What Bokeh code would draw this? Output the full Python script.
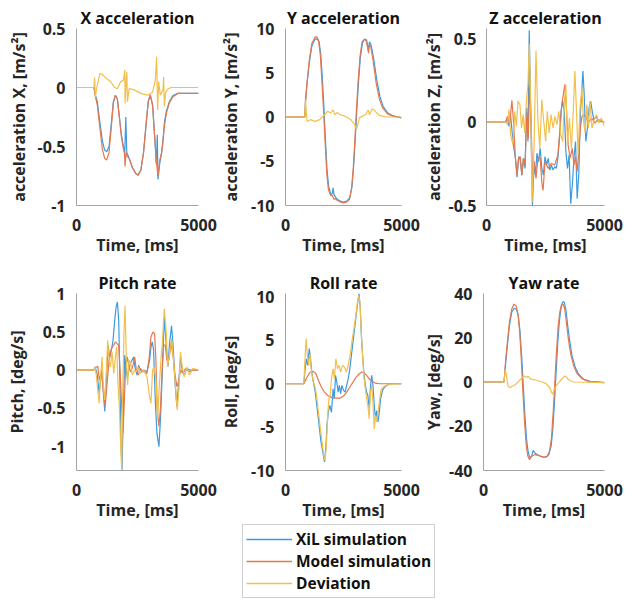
from bokeh.plotting import figure
from bokeh.layouts import row, column
from bokeh.models import Range1d, FixedTicker, Legend, LegendItem
from bokeh.embed import file_html
from bokeh.resources import INLINE

# ---------------- data (time in ms) ----------------
xacc_xil_t = [0, 714, 770, 852, 962, 1058, 1154, 1237, 1333, 1429, 1511, 1594, 1676, 1759, 1841, 1924, 1979, 2020, 2061, 2157, 2295, 2432, 2528, 2638, 2748, 2858, 2940, 3023, 3119, 3215, 3270, 3311, 3339, 3408, 3490, 3545, 3600, 3682, 3806, 3943, 4149, 5000]
xacc_xil_v = [0, 0, -0.06, -0.12, -0.30, -0.45, -0.53, -0.545, -0.50, -0.30, -0.12, -0.065, -0.10, -0.25, -0.40, -0.50, -0.55, -0.25, -0.55, -0.60, -0.68, -0.73, -0.74, -0.70, -0.55, -0.30, -0.12, -0.065, -0.15, -0.45, -0.65, -0.40, -0.78, -0.65, -0.55, -0.45, -0.30, -0.20, -0.12, -0.07, -0.05, -0.05]
xacc_mod_t = [0, 714, 770, 852, 962, 1058, 1154, 1237, 1333, 1429, 1511, 1594, 1676, 1759, 1841, 1924, 1965, 1990, 2030, 2061, 2157, 2295, 2432, 2528, 2638, 2748, 2858, 2940, 3023, 3119, 3215, 3270, 3311, 3339, 3408, 3490, 3545, 3600, 3682, 3806, 3943, 4149, 5000]
xacc_mod_v = [0, 0, -0.07, -0.15, -0.35, -0.52, -0.60, -0.615, -0.55, -0.33, -0.13, -0.065, -0.10, -0.26, -0.42, -0.52, -0.56, -0.67, -0.55, -0.58, -0.60, -0.68, -0.73, -0.745, -0.70, -0.55, -0.30, -0.12, -0.06, -0.15, -0.45, -0.62, -0.70, -0.75, -0.62, -0.55, -0.45, -0.33, -0.22, -0.13, -0.08, -0.05, -0.05]
xacc_dev_t = [0, 714, 742, 770, 852, 962, 1058, 1237, 1401, 1539, 1676, 1814, 1924, 1979, 1992, 2034, 2061, 2088, 2157, 2363, 2638, 2913, 3119, 3229, 3284, 3325, 3366, 3435, 3545, 3572, 3600, 3655, 3765, 3875, 4149, 5000]
xacc_dev_v = [0, 0, 0.085, -0.08, 0.02, 0.12, 0.11, 0.075, 0.05, 0.005, -0.01, 0.05, 0.06, 0.15, -0.135, 0.06, 0.13, -0.12, -0.01, -0.02, -0.05, -0.065, -0.04, 0.06, 0.26, -0.19, 0.05, -0.065, -0.02, 0.09, -0.16, -0.04, -0.01, 0.0, 0, 0]

yacc_xil_t = [0, 833, 861, 929, 1025, 1134, 1270, 1366, 1448, 1516, 1585, 1653, 1721, 1789, 1858, 1953, 2022, 2049, 2090, 2131, 2227, 2363, 2500, 2636, 2773, 2869, 2937, 3005, 3074, 3142, 3224, 3319, 3415, 3497, 3565, 3620, 3688, 3797, 3934, 4071, 4207, 4412, 4617, 5000]
yacc_xil_v = [0, 0, 1.95, 3.8, 6.1, 8.0, 8.8, 8.83, 8.5, 7.2, 4.6, 1.2, -2.55, -5.9, -7.8, -8.75, -8.6, -8.0, -8.8, -8.95, -9.3, -9.5, -9.6, -9.5, -9.1, -7.8, -5.6, -2.55, 0.8, 3.8, 6.65, 8.4, 8.8, 8.7, 7.6, 8.5, 8.15, 6.65, 4.2, 2.3, 1.2, 0.45, 0.15, -0.1]
yacc_mod_t = [0, 833, 861, 929, 1025, 1134, 1270, 1340, 1420, 1500, 1570, 1640, 1710, 1780, 1850, 1950, 2010, 2040, 2080, 2131, 2227, 2363, 2500, 2636, 2760, 2850, 2920, 2990, 3060, 3130, 3210, 3300, 3400, 3480, 3540, 3580, 3620, 3680, 3780, 3910, 4050, 4190, 4400, 4617, 5000]
yacc_mod_v = [0, 0, 1.5, 3.9, 6.4, 8.3, 9.0, 9.1, 8.7, 7.0, 4.0, 0.8, -3.0, -6.4, -8.2, -8.9, -8.8, -9.0, -9.3, -9.2, -9.4, -9.6, -9.7, -9.6, -9.3, -8.0, -5.8, -2.6, 0.9, 4.0, 6.8, 8.5, 8.8, 8.6, 7.8, 7.2, 8.2, 7.9, 6.3, 3.8, 2.0, 1.0, 0.35, 0.1, -0.1]
yacc_dev_t = [0, 833, 861, 929, 1065, 1270, 1475, 1680, 1817, 1953, 2049, 2131, 2227, 2363, 2500, 2636, 2814, 2978, 3060, 3115, 3183, 3319, 3456, 3565, 3620, 3729, 3825, 3934, 4071, 4344, 5000]
yacc_dev_v = [0, 0, 1.95, -0.5, -0.3, -0.5, -0.3, 0.25, 0.65, 0.45, 0.8, 0.25, 0.5, 0.25, 0.15, 0, -0.3, -0.85, -1.45, -0.85, -0.1, 0.1, 0.25, 0.8, 0.25, 0.9, 0.8, 0.45, 0.15, 0, 0]

zacc_xil_t = [0, 817, 872, 953, 1022, 1090, 1158, 1226, 1294, 1362, 1430, 1498, 1566, 1634, 1702, 1757, 1811, 1880, 1948, 2016, 2070, 2138, 2206, 2275, 2343, 2411, 2479, 2547, 2615, 2683, 2751, 2819, 2888, 2956, 3024, 3092, 3160, 3228, 3296, 3364, 3432, 3500, 3568, 3637, 3705, 3773, 3841, 3909, 3977, 4045, 4086, 4140, 4209, 4277, 4345, 4413, 4481, 4549, 4658, 4726, 5000]
zacc_xil_v = [0, 0, 0.025, -0.026, 0.035, -0.066, -0.157, -0.217, -0.33, -0.207, -0.227, -0.318, -0.217, -0.278, 0.085, -0.117, 0.55, 0.0, -0.5, -0.237, -0.318, -0.187, -0.237, -0.157, -0.278, -0.318, -0.207, -0.258, -0.217, -0.288, -0.258, -0.288, -0.268, -0.278, -0.217, -0.097, 0.064, 0.125, 0.064, -0.177, -0.278, -0.197, -0.49, -0.378, -0.217, -0.117, -0.46, -0.318, 0.044, 0.205, 0.305, 0.165, -0.117, -0.036, 0.085, 0.125, 0.064, 0.014, 0.034, 0.004, 0]
zacc_mod_t = [0, 817, 885, 981, 1076, 1144, 1226, 1294, 1362, 1430, 1498, 1566, 1634, 1702, 1771, 1825, 1880, 1948, 2016, 2097, 2179, 2275, 2343, 2397, 2479, 2615, 2751, 2888, 3024, 3119, 3187, 3255, 3323, 3391, 3460, 3541, 3637, 3705, 3773, 3841, 3909, 3977, 4045, 4113, 4209, 4318, 4454, 4590, 4726, 5000]
zacc_mod_v = [0, 0, 0.034, -0.016, 0.13, 0.004, -0.217, -0.318, -0.217, -0.207, -0.318, -0.217, -0.258, 0.044, -0.097, 0.22, 0.05, -0.318, -0.237, -0.338, -0.217, -0.217, -0.36, -0.41, -0.237, -0.278, -0.248, -0.258, -0.197, -0.036, 0.105, 0.165, 0.225, 0.064, -0.137, -0.217, -0.157, -0.258, -0.207, -0.298, -0.177, -0.036, 0.034, 0.044, 0.034, -0.006, 0.024, -0.006, 0.014, 0]
zacc_dev_t = [0, 817, 885, 953, 1022, 1117, 1199, 1267, 1335, 1416, 1485, 1553, 1621, 1689, 1757, 1811, 1866, 1934, 2016, 2097, 2179, 2261, 2343, 2425, 2506, 2574, 2656, 2738, 2819, 2901, 2983, 3064, 3146, 3228, 3296, 3364, 3432, 3514, 3596, 3677, 3745, 3814, 3882, 3963, 4045, 4113, 4181, 4250, 4318, 4386, 4468, 4549, 4658, 4767, 4862, 5000]
zacc_dev_v = [0, 0, -0.016, 0.075, -0.076, -0.137, 0.064, -0.026, 0.125, 0.105, -0.036, 0.044, -0.066, 0.125, 0.225, 0.467, 0.165, -0.48, -0.137, 0.427, 0.004, -0.157, 0.135, 0.004, -0.117, 0.064, -0.066, 0.044, -0.036, 0.034, -0.016, 0.064, -0.076, -0.117, 0.115, 0.225, -0.137, 0.024, -0.157, 0.064, 0.305, 0.064, -0.197, 0.085, 0.205, 0.004, -0.066, 0.105, -0.036, 0.125, -0.036, 0.004, 0.044, -0.006, 0.024, -0.026]

pitch_xil_t = [0, 708, 763, 844, 926, 981, 1035, 1103, 1158, 1226, 1294, 1362, 1430, 1498, 1566, 1621, 1675, 1730, 1784, 1825, 1866, 1920, 1975, 2029, 2084, 2138, 2206, 2275, 2343, 2397, 2479, 2547, 2615, 2683, 2751, 2887, 2996, 3051, 3105, 3160, 3228, 3296, 3378, 3446, 3514, 3596, 3664, 3746, 3814, 3895, 3963, 4031, 4113, 4195, 4263, 4331, 4413, 4522, 4658, 5000]
pitch_xil_v = [0, 0, 0.043, -0.043, -0.30, -0.13, 0, -0.30, -0.54, -0.13, 0.325, 0.173, 0.26, 0.39, 0.65, 0.82, 0.89, 0.65, -0.22, -0.99, -1.3, -0.52, 0.195, 0.043, -0.11, 0, 0.087, 0.13, 0.17, 0.043, -0.065, 0.065, 0, -0.022, 0, -0.022, 0.13, 0.30, 0.37, 0.26, -0.39, -0.82, -1.0, -0.61, -0.043, 0.69, 0.39, 0.043, 0.346, 0.58, 0.30, -0.13, -0.476, -0.13, 0.173, 0, -0.065, 0.022, 0, 0]
pitch_mod_t = [0, 708, 790, 872, 940, 1022, 1103, 1171, 1253, 1335, 1430, 1525, 1593, 1661, 1730, 1798, 1852, 1907, 1961, 2016, 2084, 2152, 2220, 2302, 2384, 2452, 2534, 2615, 2751, 2887, 2983, 3051, 3133, 3201, 3255, 3310, 3378, 3446, 3514, 3569, 3637, 3705, 3787, 3868, 3950, 4031, 4113, 4195, 4263, 4358, 4467, 4604, 4794, 5000]
pitch_mod_v = [0, 0, 0.035, 0.052, -0.13, -0.022, -0.28, -0.476, -0.173, 0.13, 0.28, 0.325, 0.368, 0.346, 0.325, -0.087, -0.476, -0.823, -0.39, 0.043, 0.173, 0.043, -0.022, 0.043, 0.173, 0, -0.065, 0.022, -0.022, -0.043, 0.173, 0.433, 0.498, 0.476, 0.13, -0.52, -0.736, -0.476, 0.043, 0.325, 0.325, 0.13, 0.13, 0.346, 0.216, -0.043, -0.216, -0.13, 0, -0.043, 0.022, -0.022, 0, 0]
pitch_dev_t = [0, 708, 763, 817, 872, 926, 981, 1049, 1103, 1158, 1226, 1280, 1335, 1389, 1457, 1525, 1593, 1648, 1702, 1757, 1811, 1852, 1893, 1948, 1989, 2043, 2097, 2152, 2220, 2288, 2370, 2452, 2534, 2615, 2751, 2887, 2996, 3051, 3119, 3187, 3255, 3323, 3391, 3460, 3528, 3596, 3664, 3732, 3814, 3895, 3977, 4058, 4126, 4195, 4263, 4331, 4413, 4522, 4631, 4767, 5000]
pitch_dev_v = [0, 0, 0.043, -0.087, -0.26, -0.433, -0.13, 0.173, -0.216, -0.39, 0, 0.39, 0.13, 0.043, 0.238, -0.043, 0.173, 0.303, -0.173, -0.476, -1.0, -1.3, -0.3, 0.5, 0.84, 0.13, -0.195, 0.13, 0.087, -0.065, 0, -0.022, 0.043, -0.043, 0, -0.087, -0.346, -0.433, 0, 0.043, -0.13, -0.649, -0.216, 0.13, 0.39, 0.80, 0.563, 0.043, 0.216, 0.411, 0.13, -0.216, -0.52, -0.26, 0.238, 0.043, -0.087, 0.043, -0.065, 0.022, 0]

roll_xil_t = [0, 792, 847, 902, 956, 1025, 1079, 1134, 1202, 1284, 1366, 1448, 1530, 1612, 1680, 1735, 1789, 1844, 1912, 1981, 2049, 2104, 2158, 2213, 2268, 2322, 2377, 2431, 2500, 2568, 2636, 2705, 2773, 2841, 2910, 2978, 3046, 3115, 3169, 3224, 3278, 3333, 3388, 3442, 3497, 3551, 3606, 3661, 3715, 3770, 3825, 3879, 3934, 3989, 4043, 4098, 4180, 4276, 4412, 4617, 5000]
roll_xil_v = [0, 0, 1.73, 2.88, 2.12, 4.04, 2.88, 1.35, 0.19, -0.96, -2.88, -4.8, -6.7, -7.9, -9.0, -7.5, -4.8, -3.3, -2.5, -3.3, -0.58, -1.73, 0.96, 0.19, -0.96, -0.19, -1.15, -0.19, -0.77, -0.96, -0.19, 0.58, 1.73, 3.27, 4.8, 6.35, 7.9, 9.4, 10.4, 8.65, 5.2, 2.88, 0.96, -0.19, -0.96, -1.35, -2.88, -0.38, 0.96, -0.19, -2.5, -4.04, -3.1, -4.4, -3.27, -1.73, -0.77, -0.38, -0.12, 0, 0]
roll_mod_t = [0, 792, 929, 1065, 1202, 1311, 1420, 1544, 1680, 1817, 1953, 2158, 2363, 2500, 2636, 2773, 2910, 3046, 3183, 3292, 3388, 3497, 3606, 3729, 3866, 4071, 5000]
roll_mod_v = [0, 0, 0.77, 1.35, 1.42, 1.15, 0.38, -0.38, -0.96, -1.35, -1.54, -1.65, -1.65, -1.42, -0.96, -0.38, 0.19, 0.77, 1.15, 1.35, 1.27, 0.96, 0.58, 0.27, 0.08, 0, 0]
roll_dev_t = [0, 792, 833, 888, 943, 997, 1052, 1107, 1175, 1257, 1339, 1420, 1503, 1585, 1653, 1708, 1762, 1817, 1871, 1926, 1981, 2049, 2104, 2172, 2240, 2309, 2377, 2459, 2541, 2623, 2705, 2787, 2869, 2951, 3033, 3101, 3156, 3210, 3265, 3320, 3388, 3442, 3497, 3551, 3606, 3661, 3715, 3770, 3825, 3879, 3934, 3989, 4043, 4112, 4207, 4344, 4549, 5000]
roll_dev_v = [0, 0, 2.5, 5.2, 3.27, 2.12, 3.46, 1.73, 0.38, -0.19, -1.35, -3.27, -5.2, -6.9, -8.3, -8.85, -7.1, -3.65, -1.73, -1.35, 0.58, 1.73, 0.58, 2.88, 1.73, 2.12, 1.35, 2.12, 1.92, 1.35, 2.12, 3.27, 5.0, 6.35, 7.9, 9.4, 10.2, 9.4, 5.96, 3.27, 0.58, -0.58, -1.73, -2.5, -4.04, -0.96, -0.19, -2.12, -5.2, -3.65, -4.4, -3.27, -2.12, -0.77, -0.38, -0.19, -0.04, 0]

yaw_xil_t = [0, 849, 918, 986, 1069, 1165, 1260, 1356, 1439, 1507, 1576, 1644, 1713, 1781, 1850, 1918, 1987, 2055, 2124, 2219, 2356, 2493, 2603, 2699, 2795, 2863, 2932, 3000, 3069, 3137, 3206, 3274, 3343, 3411, 3480, 3562, 3658, 3795, 3932, 4137, 4411, 5000]
yaw_xil_v = [0, 0, 8.8, 16.3, 25.4, 31.5, 33.3, 33.0, 30.0, 23.0, 11.8, -1.8, -15.4, -26.0, -32.0, -34.3, -33.6, -30.9, -32.1, -32.8, -33.6, -34.0, -33.9, -32.8, -29.0, -21.5, -9.4, 4.2, 17.9, 27.7, 33.7, 36.3, 36.0, 32.2, 25.4, 18.6, 11.8, 6.5, 3.5, 1.2, 0.3, -0.3]
yaw_mod_t = [0, 849, 918, 986, 1069, 1165, 1260, 1343, 1425, 1493, 1562, 1630, 1699, 1767, 1836, 1904, 1959, 2028, 2124, 2288, 2493, 2630, 2726, 2808, 2877, 2946, 3014, 3083, 3151, 3220, 3288, 3357, 3425, 3507, 3603, 3726, 3863, 4069, 4343, 5000]
yaw_mod_v = [0, 0, 10.3, 17.8, 26.9, 33.0, 35.2, 34.5, 30.7, 23.0, 10.3, -4.8, -18.5, -29.0, -33.6, -35.1, -33.9, -33.3, -32.8, -33.3, -33.9, -33.6, -31.3, -25.3, -14.0, -0.3, 13.3, 24.7, 31.5, 34.8, 35.2, 33.0, 26.9, 19.4, 12.7, 7.3, 3.8, 1.5, 0.3, -0.3]
yaw_dev_t = [0, 849, 904, 959, 1014, 1096, 1192, 1329, 1466, 1603, 1699, 1781, 1836, 1918, 2014, 2151, 2288, 2425, 2562, 2658, 2740, 2808, 2863, 2932, 3014, 3110, 3206, 3288, 3343, 3411, 3480, 3589, 3726, 5000]
yaw_dev_v = [0, 0, 5.7, 2.0, -1.8, -2.6, -1.8, -1.1, 0.45, 2.0, 2.7, 2.0, 2.7, 1.5, 1.2, 0.9, 0.45, 0, -0.6, -1.5, -2.6, -4.5, -5.6, -3.3, -1.5, -0.3, 0.9, 2.0, 2.7, 2.4, 1.5, 0.45, 0, -0.3]

x_ticks = [0, 5000]
x_tick_labels = ["0", "5000"]
series_names = ["XiL simulation", "Model simulation", "Deviation"]

FONT = "Open Sans"
C_XIL = "#3d9ae0"
C_MOD = "#e5784f"
C_DEV = "#f2c04c"
AX_COL = "#a3a3a3"
TXT = "#262626"
LW = 1.2


def panel(title, ylabel, yr, yticks, ylabels, series, left, right, top, bottom, width, height,
          lab_standoff, tick_standoff=5):
    p = figure(width=width, height=height, x_range=Range1d(0, 5000), y_range=Range1d(*yr),
               output_backend="svg", toolbar_location=None, title=title,
               min_border_left=left, min_border_right=right,
               min_border_top=top, min_border_bottom=bottom)
    p.title.align = "center"
    p.title.text_font = FONT
    p.title.text_font_size = "16px"
    p.title.text_font_style = "bold"
    p.title.text_color = "#111111"
    p.title.standoff = 0
    p.grid.visible = False
    p.outline_line_color = None
    for ax in (p.xaxis[0], p.yaxis[0]):
        ax.axis_line_color = AX_COL
        ax.major_tick_line_color = None
        ax.minor_tick_line_color = None
        ax.major_label_text_font = FONT
        ax.major_label_text_font_size = "16px"
        ax.major_label_text_font_style = "bold"
        ax.major_label_text_color = TXT
        ax.axis_label_text_font = FONT
        ax.axis_label_text_font_size = "16px"
        ax.axis_label_text_font_style = "bold"
        ax.axis_label_text_color = TXT
    p.xaxis.ticker = FixedTicker(ticks=x_ticks)
    p.xaxis.major_label_overrides = dict(zip(x_ticks, x_tick_labels))
    p.xaxis.axis_label = "Time, [ms]"
    p.xaxis.major_label_standoff = 7
    p.xaxis.axis_label_standoff = 0
    p.yaxis.ticker = FixedTicker(ticks=yticks)
    p.yaxis.major_label_overrides = dict(zip(yticks, ylabels))
    p.yaxis.axis_label = ylabel
    p.yaxis.major_label_standoff = tick_standoff
    p.yaxis.axis_label_standoff = lab_standoff
    for (t, v), col in zip(series, (C_XIL, C_MOD, C_DEV)):
        p.line(t, v, line_color=col, line_width=LW)
    return p


TOP_H, BOT_H, LEG_H = 269, 254, 76
p1 = panel("X acceleration", "acceleration X, [m/s²]", (-1, 0.5), [-1, -0.5, 0, 0.5], ["-1", "-0.5", "0", "0.5"],
           [(xacc_xil_t, xacc_xil_v), (xacc_mod_t, xacc_mod_v), (xacc_dev_t, xacc_dev_v)],
           76, 19, 28, 64, 217, TOP_H, 4)
p2 = panel("Y acceleration", "acceleration Y, [m/s²]", (-10, 10), [-10, -5, 0, 5, 10], ["-10", "-5", "0", "5", "10"],
           [(yacc_xil_t, yacc_xil_v), (yacc_mod_t, yacc_mod_v), (yacc_dev_t, yacc_dev_v)],
           62, 19, 28, 64, 203, TOP_H, 6)
p3 = panel("Z acceleration", "acceleration Z, [m/s²]", (-0.5, 0.56), [-0.5, 0, 0.5], ["-0.5", "0", "0.5"],
           [(zacc_xil_t, zacc_xil_v), (zacc_mod_t, zacc_mod_v), (zacc_dev_t, zacc_dev_v)],
           62, 19, 28, 64, 203, TOP_H, 0, 4)
p4 = panel("Pitch rate", "Pitch, [deg/s]", (-1.31, 1.0), [-1, -0.5, 0, 0.5, 1], ["-1", "-0.5", "0", "0.5", "1"],
           [(pitch_xil_t, pitch_xil_v), (pitch_mod_t, pitch_mod_v), (pitch_dev_t, pitch_dev_v)],
           76, 19, 24, 52, 217, BOT_H, 6)
p5 = panel("Roll rate", "Roll, [deg/s]", (-10, 10.4), [-10, -5, 0, 5, 10], ["-10", "-5", "0", "5", "10"],
           [(roll_xil_t, roll_xil_v), (roll_mod_t, roll_mod_v), (roll_dev_t, roll_dev_v)],
           62, 19, 24, 52, 203, BOT_H, 6)
p6 = panel("Yaw rate", "Yaw, [deg/s]", (-40, 40), [-40, -20, 0, 20, 40], ["-40", "-20", "0", "20", "40"],
           [(yaw_xil_t, yaw_xil_v), (yaw_mod_t, yaw_mod_v), (yaw_dev_t, yaw_dev_v)],
           62, 19, 24, 52, 203, BOT_H, 1)

# legend panel: its sample lines lie outside the (empty) frame, only the legend shows
pl = figure(width=623, height=LEG_H, x_range=Range1d(0, 1), y_range=Range1d(0, 1),
            output_backend="svg", toolbar_location=None,
            x_axis_location=None, y_axis_location=None,
            min_border_left=0, min_border_right=0, min_border_top=0, min_border_bottom=0)
pl.grid.visible = False
pl.outline_line_color = None
rs = [pl.line([5, 6], [5, 5], line_color=c, line_width=1.4) for c in (C_XIL, C_MOD, C_DEV)]
leg = Legend(items=[LegendItem(label=n, renderers=[r]) for n, r in zip(series_names, rs)],
             location=(242, 1), orientation="vertical")
leg.margin = 0
leg.padding = 3
leg.spacing = 0
leg.glyph_width = 46
leg.glyph_height = 20
leg.label_height = 20
leg.label_standoff = 4
leg.label_text_font = FONT
leg.label_text_font_size = "15.5px"
leg.label_text_font_style = "bold"
leg.label_text_color = "#111111"
leg.border_line_color = "#a0a0a0"
leg.border_line_width = 1
leg.background_fill_alpha = 1
pl.add_layout(leg)

layout = column(row(p1, p2, p3), row(p4, p5, p6), pl)
open("out.html", "w").write(file_html(layout, INLINE))
